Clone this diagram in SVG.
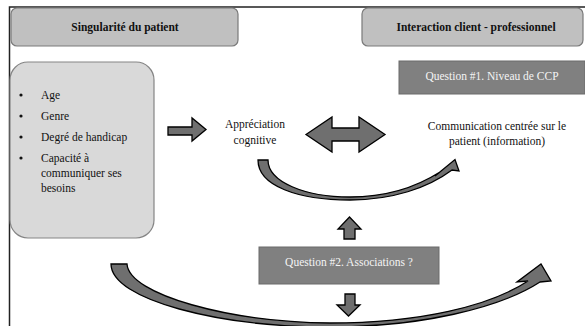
<svg xmlns="http://www.w3.org/2000/svg" width="585" height="326" viewBox="0 0 585 326">
<style>
.t{font-family:"Liberation Serif","Times New Roman",serif;font-size:11.5px;fill:#111}
.h{font-family:"Liberation Serif","Times New Roman",serif;font-size:11.5px;font-weight:bold;fill:#111}
.q{font-family:"Liberation Serif","Times New Roman",serif;font-size:11.5px;fill:#f4f4f4}
.hdr{fill:#c0c0c0;stroke:#7a7a7a;stroke-width:1.2}
.qb{fill:#808080;stroke:#6a6a6a;stroke-width:1}
.ar{fill:#6f6f6f;stroke:#000;stroke-width:1.3;stroke-linejoin:miter}
</style>
<rect width="585" height="326" fill="#fff"/>
<path d="M9.5,326 V7 H585" fill="none" stroke="#222" stroke-width="1.5"/>
<g id="hdr-singularite">
<rect class="hdr" x="11" y="8" width="227" height="38" rx="6"/>
<text class="h" x="125" y="31" text-anchor="middle">Singularité du patient</text>
</g>
<g id="hdr-interaction">
<rect class="hdr" x="362" y="8" width="221" height="38" rx="6"/>
<text class="h" x="476" y="31" text-anchor="middle">Interaction client - professionnel</text>
</g>
<g id="q1">
<rect class="qb" x="399" y="61" width="186" height="33"/>
<text class="q" x="492" y="80" text-anchor="middle">Question #1. Niveau de CCP</text>
</g>
<g id="patient">
<rect x="10" y="62" width="144" height="176" rx="18" fill="#d9d9d9" stroke="#858585" stroke-width="1.2"/>
<circle cx="21" cy="95" r="1.6" fill="#111"/>
<text class="t" x="41" y="99">Age</text>
<circle cx="21" cy="116" r="1.6" fill="#111"/>
<text class="t" x="41" y="120">Genre</text>
<circle cx="21" cy="137" r="1.6" fill="#111"/>
<text class="t" x="41" y="141">Degré de handicap</text>
<circle cx="21" cy="158" r="1.6" fill="#111"/>
<text class="t" x="41" y="162">Capacité à</text>
<text class="t" x="41" y="177">communiquer ses</text>
<text class="t" x="41" y="192">besoins</text>
</g>
<g id="appreciation">
<text class="t" x="255" y="128" text-anchor="middle">Appréciation</text>
<text class="t" x="255" y="144" text-anchor="middle">cognitive</text>
</g>
<g id="communication">
<text class="t" x="497" y="130" text-anchor="middle">Communication centrée sur le</text>
<text class="t" x="497" y="145" text-anchor="middle">patient (information)</text>
</g>
<g id="q2">
<rect class="qb" x="259" y="247" width="180" height="37"/>
<text class="q" x="349" y="266" text-anchor="middle">Question #2. Associations ?</text>
</g>
<g id="connectors">
<path class="ar" d="M168,127 H192 V118 L206,129.5 L192,141 V135 H168 Z"/>
<path class="ar" d="M306,134.5 L332,117 V128 H359 V117 L385,134.5 L359,152 V141 H332 V152 Z"/>
<path class="ar" d="M349.5,217 L361,229 H355 V239 H344 V229 H338 Z"/>
<path class="ar" d="M345,294 H355 V305 H360 L348.5,316 L337,305 H345 Z"/>
<path class="ar" d="M258,160 H268 C268,182 305,197 350,197 C388,197 418,186 440,172 L435,176 L455,159.5 L459,171 L452,170 C428,188 392,200 350,200 C298,200 258,186 258,160 Z"/>
<path class="ar" d="M111,264 H127 C129,295 230,322 330,323 C420,323 490,306 528,281 L517,282 L541,264 L551,281 L540,282 C500,308 420,327 330,327 C220,327 111,300 111,264 Z"/>
</g>
</svg>
